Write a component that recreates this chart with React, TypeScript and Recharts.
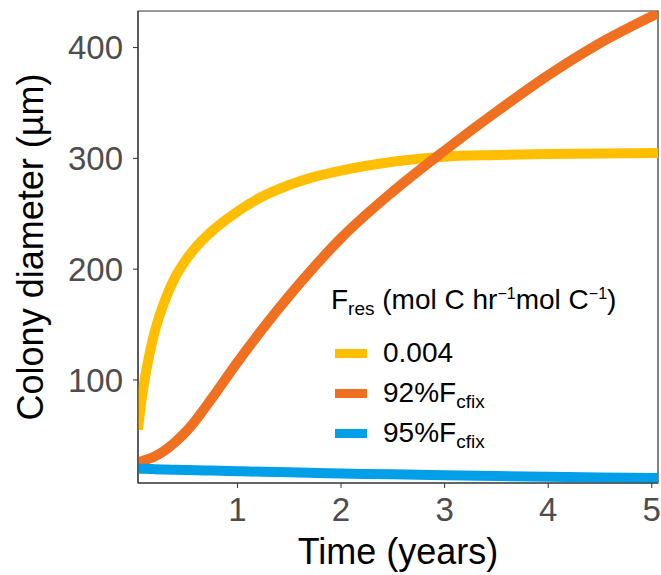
import { LineChart, Line, XAxis, YAxis, Legend, Label, ReferenceArea } from 'recharts'

// time points (years) shared by every series
const timeYears = [
  0.04, 0.07, 0.1, 0.15, 0.2, 0.3, 0.4, 0.5, 0.6, 0.75, 1, 1.25, 1.5, 1.75, 2, 2.5, 3, 3.5, 4, 4.5, 5.06,
]

// colony diameter (µm) for each F_res setting
const fres0004 = [
  55, 79, 98, 123, 143, 172, 193, 208, 220, 234, 252, 266, 276, 283.5, 289, 297, 301.5, 303, 304, 304.5, 304.8,
]
const fres92 = [
  26, 26.6, 27.4, 29, 31, 36.5, 44, 53, 64, 83, 116, 147, 176, 203, 228, 270, 307, 342, 375, 404, 431,
]
const fres95 = [
  20, 19.9, 19.8, 19.7, 19.5, 19.2, 19, 18.8, 18.6, 18.2, 17.6, 17.1, 16.6, 16.1, 15.6, 14.8, 14, 13.3, 12.6, 12, 11.5,
]

const xTicks = [1, 2, 3, 4, 5]
const yTicks = [100, 200, 300, 400]
const xDomain: [number, number] = [0.04, 5.06]
const yDomain: [number, number] = [7, 433]

const series = [
  { key: 'a', name: '0.004', values: fres0004, color: '#FFBF00' },
  { key: 'b', name: '92%', values: fres92, color: '#EE7020', sub: 'cfix' },
  { key: 'c', name: '95%', values: fres95, color: '#009FE8', sub: 'cfix' },
]

const data = timeYears.map((t, i) => {
  const row: Record<string, number> = { t }
  series.forEach((s) => {
    row[s.key] = s.values[i]
  })
  return row
})

const FONT = '"Liberation Sans", Arial, Helvetica, sans-serif'

function LegendBox() {
  return (
    <div style={{ fontFamily: FONT, color: '#000', whiteSpace: 'nowrap' }}>
      <div style={{ fontSize: 28, lineHeight: '30px', height: 30 }}>
        F<span style={{ fontSize: 19, position: 'relative', top: 6 }}>res</span> (mol C hr
        <span style={{ fontSize: 16, position: 'relative', top: -10 }}>−1</span>mol C
        <span style={{ fontSize: 16, position: 'relative', top: -10 }}>−1</span>)
      </div>
      <div style={{ marginTop: 18 }}>
        {series.map((s) => (
          <div key={s.key} style={{ height: 40, display: 'flex', alignItems: 'center', fontSize: 28 }}>
            <div style={{ width: 32, height: 9, background: s.color, marginLeft: 4, marginRight: 16 }} />
            <span>
              {s.name}
              {s.sub && (
                <>
                  F<span style={{ fontSize: 19, position: 'relative', top: 6 }}>{s.sub}</span>
                </>
              )}
            </span>
          </div>
        ))}
      </div>
    </div>
  )
}

export default function App() {
  const tickStyle = { fill: '#4D4D4D', fontSize: 33, fontFamily: FONT }
  return (
    <div style={{ position: 'absolute', left: 0, top: 0, background: '#fff' }}>
      <LineChart width={661} height={575} data={data} margin={{ top: 11, right: 3, left: 0, bottom: 0 }}>
        <XAxis
          dataKey="t"
          type="number"
          domain={xDomain}
          ticks={xTicks}
          allowDataOverflow
          height={92}
          tick={tickStyle}
          tickSize={5}
          tickMargin={10}
          stroke="#333"
        >
          <Label
            value="Time (years)"
            position="insideBottom"
            offset={11}
            style={{ fill: '#000', fontSize: 36, fontFamily: FONT }}
          />
        </XAxis>
        <YAxis
          type="number"
          domain={yDomain}
          ticks={yTicks}
          allowDataOverflow
          width={138}
          tick={tickStyle}
          tickSize={5}
          tickMargin={10}
          stroke="#333"
        >
          <Label
            content={({ viewBox }: any) => {
              const cx = viewBox.x + 43
              const cy = viewBox.y + viewBox.height / 2
              return (
                <text
                  x={cx}
                  y={cy}
                  transform={`rotate(-90 ${cx} ${cy})`}
                  textAnchor="middle"
                  style={{ fill: '#000', fontSize: 36, fontFamily: FONT }}
                >
                  Colony diameter (µm)
                </text>
              )
            }}
          />
        </YAxis>
        <ReferenceArea
          x1={xDomain[0]}
          x2={xDomain[1]}
          y1={yDomain[0]}
          y2={yDomain[1]}
          fill="none"
          stroke="#333"
          strokeWidth={1.2}
        />
        {series.map((s) => (
          <Line
            key={s.key}
            dataKey={s.key}
            name={s.name}
            type="monotone"
            stroke={s.color}
            strokeWidth={10}
            dot={false}
            activeDot={false}
            isAnimationActive={false}
          />
        ))}
        <Legend
          layout="vertical"
          align="center"
          verticalAlign="middle"
          content={() => <LegendBox />}
          wrapperStyle={{ left: 331, top: 285, width: 320 }}
        />
      </LineChart>
    </div>
  )
}
